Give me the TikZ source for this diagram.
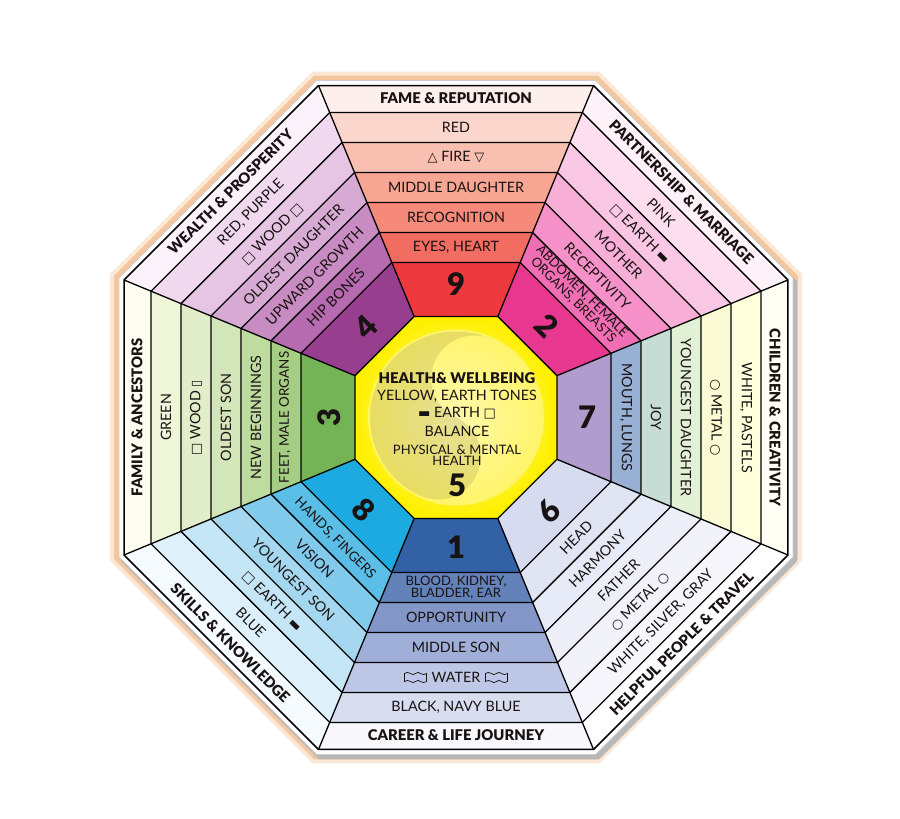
\documentclass[tikz,border=0pt]{standalone}
\usepackage{fontspec}
\setmainfont{Lato}
\newfontfamily\heavy{Lato Black}
\newfontfamily\symf{DejaVu Sans}
\usetikzlibrary{calc}
% sector colours: a = number area (inner) ... f = outer band, g = label band
\definecolor{s9a}{RGB}{238,58,62}\definecolor{s9b}{RGB}{243,108,98}\definecolor{s9c}{RGB}{245,138,122}\definecolor{s9d}{RGB}{247,166,148}\definecolor{s9e}{RGB}{249,192,178}\definecolor{s9f}{RGB}{250,214,204}\definecolor{s9g}{RGB}{253,240,236}
\definecolor{s2a}{RGB}{232,55,142}\definecolor{s2b}{RGB}{240,110,180}\definecolor{s2c}{RGB}{245,145,200}\definecolor{s2d}{RGB}{248,175,215}\definecolor{s2e}{RGB}{250,200,228}\definecolor{s2f}{RGB}{252,222,238}\definecolor{s2g}{RGB}{254,242,249}
\definecolor{s7a}{RGB}{176,156,205}\definecolor{s7b}{RGB}{152,176,212}\definecolor{s7c}{RGB}{200,220,214}\definecolor{s7d}{RGB}{226,240,214}\definecolor{s7e}{RGB}{250,250,212}\definecolor{s7f}{RGB}{255,255,222}\definecolor{s7g}{RGB}{255,255,246}
\definecolor{s6a}{RGB}{214,219,240}\definecolor{s6b}{RGB}{224,228,243}\definecolor{s6c}{RGB}{230,233,246}\definecolor{s6d}{RGB}{236,238,248}\definecolor{s6e}{RGB}{241,242,250}\definecolor{s6f}{RGB}{246,246,252}\definecolor{s6g}{RGB}{255,255,255}
\definecolor{s1a}{RGB}{50,98,165}\definecolor{s1b}{RGB}{100,130,186}\definecolor{s1c}{RGB}{130,150,200}\definecolor{s1d}{RGB}{160,175,216}\definecolor{s1e}{RGB}{190,200,230}\definecolor{s1f}{RGB}{216,221,240}\definecolor{s1g}{RGB}{248,248,252}
\definecolor{s8a}{RGB}{28,170,225}\definecolor{s8b}{RGB}{90,190,230}\definecolor{s8c}{RGB}{130,202,236}\definecolor{s8d}{RGB}{165,216,240}\definecolor{s8e}{RGB}{196,230,246}\definecolor{s8f}{RGB}{222,241,250}\definecolor{s8g}{RGB}{246,251,255}
\definecolor{s3a}{RGB}{116,180,86}\definecolor{s3b}{RGB}{166,205,132}\definecolor{s3c}{RGB}{190,220,160}\definecolor{s3d}{RGB}{210,230,186}\definecolor{s3e}{RGB}{226,238,202}\definecolor{s3f}{RGB}{239,245,217}\definecolor{s3g}{RGB}{253,253,242}
\definecolor{s4a}{RGB}{152,62,142}\definecolor{s4b}{RGB}{182,106,176}\definecolor{s4c}{RGB}{200,140,195}\definecolor{s4d}{RGB}{215,170,212}\definecolor{s4e}{RGB}{230,196,228}\definecolor{s4f}{RGB}{240,216,238}\definecolor{s4g}{RGB}{251,242,251}
\definecolor{glow}{RGB}{238,160,90}
\definecolor{ink}{RGB}{25,18,18}
\newcommand\bandfill[4]{%
  \fill[#4] ({#1-22.5}:{#2*1.082392}) -- ({#1+22.5}:{#2*1.082392}) -- ({#1+22.5}:{#3*1.082392}) -- ({#1-22.5}:{#3*1.082392}) -- cycle;}
\newcommand\sector[8]{%
  \bandfill{#1}{101}{155}{#2}\bandfill{#1}{155}{185}{#3}\bandfill{#1}{185}{215}{#4}%
  \bandfill{#1}{215}{245}{#5}\bandfill{#1}{245}{275}{#6}\bandfill{#1}{275}{305}{#7}\bandfill{#1}{305}{332}{#8}}
\newcommand\octa[2]{\draw[#2] (22.5:{#1*1.082392}) \foreach \a in {67.5,112.5,...,337.5} { -- (\a:{#1*1.082392}) } -- cycle;}
\newcommand\sy[1]{{\symf\fontsize{13}{13}\selectfont #1}}
\begin{document}
\begin{tikzpicture}[x=1pt,y=1pt,
  txt/.style={font=\fontsize{14.3}{14}\selectfont, text=ink, inner sep=0pt},
  txts/.style={font=\fontsize{13.4}{14}\selectfont, text=ink, inner sep=0pt},
  txtt/.style={font=\fontsize{13}{10.8}\selectfont, text=ink, inner sep=0pt, align=center},
  lab/.style={font=\fontsize{14.8}{14}\heavy, text=ink, inner sep=0pt},
  num/.style={font=\fontsize{31}{31}\heavy, text=ink, inner sep=0pt},
  wave/.pic={\draw[line width=0.7pt, ink] (-11,4) .. controls (-7,8) and (-3,0) .. (0,4) .. controls (3,8) and (7,0) .. (11,4) -- (11,-4) .. controls (7,-8) and (3,0) .. (0,-4) .. controls (-3,-8) and (-7,0) .. (-11,-4) -- cycle;}]
\useasboundingbox (0,0) rectangle (900,819);
\fill[white] (0,0) rectangle (900,819);
\begin{scope}[shift={(456,401.5)}]
  % glow, shadow and rim
  \octa{346}{draw=none, fill=glow, fill opacity=0.25}
  \octa{342}{draw=none, fill=glow, fill opacity=0.45}
  \begin{scope}[shift={(3,-4)}]\octa{338}{draw=none, fill=black!28}\end{scope}
  \octa{337}{fill=white, draw=black!20, line width=0.8pt}
  % sectors
  \sector{90}{s9a}{s9b}{s9c}{s9d}{s9e}{s9f}{s9g}
  \sector{45}{s2a}{s2b}{s2c}{s2d}{s2e}{s2f}{s2g}
  \sector{0}{s7a}{s7b}{s7c}{s7d}{s7e}{s7f}{s7g}
  \sector{-45}{s6a}{s6b}{s6c}{s6d}{s6e}{s6f}{s6g}
  \sector{-90}{s1a}{s1b}{s1c}{s1d}{s1e}{s1f}{s1g}
  \sector{-135}{s8a}{s8b}{s8c}{s8d}{s8e}{s8f}{s8g}
  \sector{180}{s3a}{s3b}{s3c}{s3d}{s3e}{s3f}{s3g}
  \sector{135}{s4a}{s4b}{s4c}{s4d}{s4e}{s4f}{s4g}
  % centre
  \octa{101}{draw=none, inner color={rgb,255:red,255;green,250;blue,170}, outer color={rgb,255:red,255;green,240;blue,0}}
  \fill[fill={rgb,255:red,255;green,248;blue,175}, opacity=0.55] (0,0) circle (88);
  \begin{scope}[rotate=-25]
    \fill[fill={rgb,255:red,150;green,140;blue,70}, opacity=0.22] (0,86) arc (90:270:86) arc (-90:90:43) arc (270:90:43) -- cycle;
  \end{scope}
  % lines
  \foreach \r in {101,155,185,215,245,275,305} {\octa{\r}{black, line width=1.3pt}}
  \octa{332}{black, line width=1.5pt}
  \foreach \a in {22.5,67.5,...,337.5} {\draw[black, line width=1.3pt] (\a:{101*1.082392}) -- (\a:{332*1.082392});}
  % Fame (9)
  \node[lab] (l9) at (90:319) {FAME \& REPUTATION};
  \node[txt] (t9a) at (90:290) {RED};
  \node[txt] (t9b) at (90:260) {\sy{△} FIRE \sy{▽}};
  \node[txt] (t9c) at (90:230) {MIDDLE DAUGHTER};
  \node[txt] (t9d) at (90:200) {RECOGNITION};
  \node[txt] (t9e) at (90:170) {EYES, HEART};
  \node[num] (n9) at (90:133) {9};
  % Partnership (2)
  \node[lab,rotate=-45] (l2) at (45:319) {PARTNERSHIP \& MARRIAGE};
  \node[txt,rotate=-45] (t2a) at (45:290) {PINK};
  \node[txt,rotate=-45] (t2b) at (45:260) {\sy{□} EARTH \sy{▬}};
  \node[txt,rotate=-45] (t2c) at (45:230) {MOTHER};
  \node[txt,rotate=-45] (t2d) at (45:200) {RECEPTIVITY};
  \node[txtt,rotate=-45] (t2e) at (45:172) {ABDOMEN, FEMALE\\ORGANS, BREASTS};
  \node[num,rotate=-45] (n2) at (45:129) {2};
  % Children (7)
  \node[lab,rotate=-90] (l7) at (0:319) {CHILDREN \& CREATIVITY};
  \node[txt,rotate=-90] (t7a) at (0:290) {WHITE, PASTELS};
  \node[txt,rotate=-90] (t7b) at (0:260) {\sy{○} METAL \sy{○}};
  \node[txt,rotate=-90] (t7c) at (0:230) {YOUNGEST DAUGHTER};
  \node[txt,rotate=-90] (t7d) at (0:200) {JOY};
  \node[txt,rotate=-90] (t7e) at (0:170) {MOUTH, LUNGS};
  \node[num] (n7) at (0:131) {7};
  % Helpful people (6)
  \node[lab,rotate=45] (l6) at (-45:319) {HELPFUL PEOPLE \& TRAVEL};
  \node[txt,rotate=45] (t6a) at (-45:290) {WHITE, SILVER, GRAY};
  \node[txt,rotate=45] (t6b) at (-45:260) {\sy{○} METAL \sy{○}};
  \node[txt,rotate=45] (t6c) at (-45:230) {FATHER};
  \node[txt,rotate=45] (t6d) at (-45:200) {HARMONY};
  \node[txt,rotate=45] (t6e) at (-45:170) {HEAD};
  \node[num,rotate=45] (n6) at (-45:132) {6};
  % Career (1)
  \node[lab] (l1) at (-90:318) {CAREER \& LIFE JOURNEY};
  \node[txt] (t1a) at (-90:290) {BLACK, NAVY BLUE};
  \node[txt] (t1b) at (-90:260) {WATER};
  \pic at ([xshift=-16]t1b.west) {wave};
  \pic at ([xshift=16]t1b.east) {wave};
  \node[txt] (t1c) at (-90:230) {MIDDLE SON};
  \node[txt] (t1d) at (-90:200) {OPPORTUNITY};
  \node[txtt] (t1e) at (-90:170) {BLOOD, KIDNEY,\\BLADDER, EAR};
  \node[num] (n1) at (-90:130) {1};
  % Skills (8)
  \node[lab,rotate=-45] (l8) at (-135:319) {SKILLS \& KNOWLEDGE};
  \node[txt,rotate=-45] (t8a) at (-135:290) {BLUE};
  \node[txt,rotate=-45] (t8b) at (-135:260) {\sy{□} EARTH \sy{▬}};
  \node[txt,rotate=-45] (t8c) at (-135:230) {YOUNGEST SON};
  \node[txt,rotate=-45] (t8d) at (-135:200) {VISION};
  \node[txts,rotate=-45] (t8e) at (-135:171) {HANDS, FINGERS};
  \node[num,rotate=-45] (n8) at (-135:131) {8};
  % Family (3)
  \node[lab,rotate=90] (l3) at (180:319) {FAMILY \& ANCESTORS};
  \node[txt,rotate=90] (t3a) at (180:290) {GREEN};
  \node[txt,rotate=90] (t3b) at (180:260) {\sy{□} WOOD \sy{▯}};
  \node[txt,rotate=90] (t3c) at (180:230) {OLDEST SON};
  \node[txt,rotate=90] (t3d) at (180:200) {NEW BEGINNINGS};
  \node[txts,rotate=90] (t3e) at (180:171) {FEET, MALE ORGANS};
  \node[num,rotate=90] (n3) at (180:127) {3};
  % Wealth (4)
  \node[lab,rotate=45] (l4) at (135:319) {WEALTH \& PROSPERITY};
  \node[txt,rotate=45] (t4a) at (135:290) {RED, PURPLE};
  \node[txt,rotate=45] (t4b) at (135:260) {\sy{□} WOOD \sy{□}};
  \node[txt,rotate=45] (t4c) at (135:230) {OLDEST DAUGHTER};
  \node[txt,rotate=45] (t4d) at (135:200) {UPWARD GROWTH};
  \node[txt,rotate=45] (t4e) at (135:170) {HIP BONES};
  \node[num,rotate=45] (n4) at (135:128) {4};
  % Centre (5)
  \node[lab] (c1) at (1,39.5) {HEALTH\& WELLBEING};
  \node[txt] (c2) at (1,21.5) {YELLOW, EARTH TONES};
  \node[txt] (c3) at (1,4.5) {\sy{▬} EARTH \sy{□}};
  \node[txt] (c4) at (1,-13.5) {BALANCE};
  \node[txtt] (c5) at (1,-37.5) {PHYSICAL \& MENTAL\\HEALTH};
  \node[num] (n5) at (1,-67.5) {5};
\end{scope}
\end{tikzpicture}
\end{document}
